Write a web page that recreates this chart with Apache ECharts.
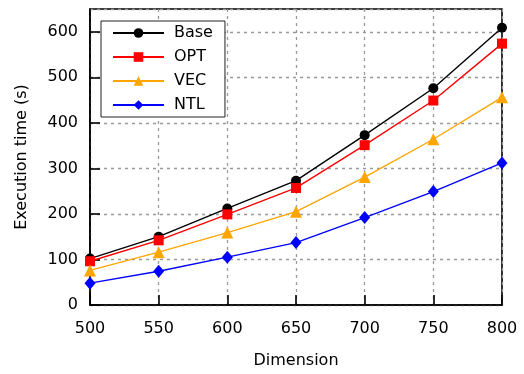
<!DOCTYPE html>
<html>
<head>
<meta charset="utf-8">
<script src="https://cdn.jsdelivr.net/npm/echarts@6/dist/echarts.min.js"></script>
<style>
    html, body { margin: 0; padding: 0; background: #fff; }
    #chart { width: 524px; height: 374px; }
</style>
</head>
<body>
<div id="chart"></div>
<script>
// x axis values
var dimensions = [500, 550, 600, 650, 700, 750, 800];

// series values (s)
var baseTimes = [102, 150, 212, 273, 373, 476, 609];
var optTimes = [96, 142, 199, 257, 351, 449, 574];
var vecTimes = [76, 116, 159, 205, 281, 364, 456];
var ntlTimes = [48, 74, 105, 137, 192, 249, 312];

var seriesNames = ['Base', 'OPT', 'VEC', 'NTL'];

var FONT = 'DejaVu Sans';

// pair up x and y for a value axis
function toPoints(values) {
    var points = [];
    for (var i = 0; i < values.length; i++) {
        points.push([dimensions[i], values[i]]);
    }
    return points;
}

function makeSeries(name, values, color, symbol, size) {
    return {
        name: name,
        type: 'line',
        data: toPoints(values),
        symbol: symbol,
        symbolSize: size,
        showAllSymbol: true,
        clip: false,
        lineStyle: { color: color, width: 1.4 },
        itemStyle: { color: color },
        emphasis: { disabled: true }
    };
}

var myChart = echarts.init(document.getElementById('chart'), null, { renderer: 'canvas' });

// dotted grid lines
var gridLine = { show: true, lineStyle: { color: '#999', type: [3, 4], width: 1.3 } };

var option = {
    animation: false,
    backgroundColor: '#fff',
    textStyle: { fontFamily: FONT },
    grid: {
        left: 90,
        right: 22,
        top: 9,
        bottom: 67,
        show: true,
        borderColor: '#000',
        borderWidth: 1.6
    },
    legend: {
        data: seriesNames,
        orient: 'vertical',
        left: 101,
        top: 21,
        padding: [4, 12, 4, 11],
        itemWidth: 51,
        itemHeight: 12,
        itemGap: 8,
        borderColor: '#222',
        borderWidth: 1,
        backgroundColor: '#fff',
        textStyle: { fontFamily: FONT, fontSize: 16, color: '#000', padding: [0, 0, 0, 5] }
    },
    xAxis: {
        type: 'value',
        min: 500,
        max: 800,
        interval: 50,
        name: 'Dimension',
        nameLocation: 'middle',
        nameGap: 48,
        nameTextStyle: { fontFamily: FONT, fontSize: 16, color: '#000' },
        axisLine: { lineStyle: { color: '#000', width: 1.6 } },
        axisTick: { inside: true, length: 10, lineStyle: { color: '#000', width: 1.6 } },
        axisLabel: { fontFamily: FONT, fontSize: 16, color: '#000', margin: 16 },
        splitLine: gridLine
    },
    yAxis: {
        type: 'value',
        min: 0,
        max: 650,
        interval: 100,
        name: 'Execution time (s)',
        nameLocation: 'middle',
        nameGap: 60,
        nameTextStyle: { fontFamily: FONT, fontSize: 16, color: '#000' },
        axisLine: { show: true, lineStyle: { color: '#000', width: 1.6 } },
        axisTick: { show: true, inside: true, length: 10, lineStyle: { color: '#000', width: 1.6 } },
        axisLabel: { fontFamily: FONT, fontSize: 16, color: '#000', margin: 12, showMaxLabel: false },
        splitLine: gridLine
    },
    series: [
        makeSeries('Base', baseTimes, '#000000', 'circle', 10),
        makeSeries('OPT', optTimes, '#ff0000', 'rect', 10),
        makeSeries('VEC', vecTimes, '#ffa500', 'triangle', 12),
        makeSeries('NTL', ntlTimes, '#0000ff', 'diamond', [11, 13])
    ]
};

myChart.setOption(option);
</script>
</body>
</html>
